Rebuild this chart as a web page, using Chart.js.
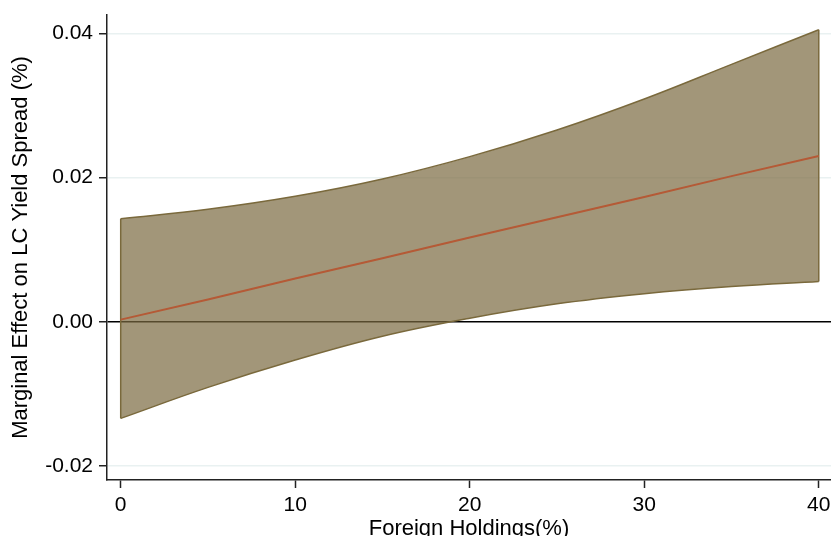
<!DOCTYPE html>
<html><head><meta charset="utf-8">
<script src="https://cdn.jsdelivr.net/npm/chart.js@4"></script>
<style>html,body{margin:0;padding:0;overflow:hidden;background:#fff}#wrap{width:831px;height:550px}</style>
</head><body><div id="wrap"><canvas id="c" width="831" height="550"></canvas></div>
<script>
const holdings = [0, 5, 10, 15, 20, 25, 30, 35, 40];
const marginalEffect = [0.0003, 0.0031, 0.0060, 0.0088, 0.0117, 0.0145, 0.0173, 0.0202, 0.0230];
const upperCI = [0.0143, 0.0156, 0.0174, 0.0198, 0.0229, 0.0266, 0.0309, 0.0357, 0.0405];
const lowerCI = [-0.0134, -0.0091, -0.0053, -0.0020, 0.0005, 0.0025, 0.0039, 0.0049, 0.0056];
const xTicks = [0, 10, 20, 30, 40];
const yTicks = [-0.02, 0.00, 0.02, 0.04];

const pts = (ys) => holdings.map((x, i) => ({x: x, y: ys[i]}));
const last = holdings.length - 1;
const bandEdge = '#7a693c';
const bandFill = 'rgba(122,105,64,0.7)';
const tickFont = {family: '"Liberation Sans", Arial, sans-serif', size: 21};
const titleFont = {family: '"Liberation Sans", Arial, sans-serif', size: 22};

new Chart(document.getElementById('c'), {
  type: 'line',
  data: {
    datasets: [
      {label: 'Marginal effect', data: pts(marginalEffect), borderColor: '#b55a36', borderWidth: 2, fill: false, order: 0, tension: 0},
      {label: 'Upper CI', data: pts(upperCI), borderColor: bandEdge, borderWidth: 1.5, backgroundColor: bandFill, fill: '+1', order: 3, tension: 0.4},
      {label: 'Lower CI', data: pts(lowerCI), borderColor: bandEdge, borderWidth: 1.5, fill: false, order: 2, tension: 0.4},
      {label: 'edgeL', data: [{x: holdings[0], y: lowerCI[0]}, {x: holdings[0], y: upperCI[0]}], borderColor: bandEdge, borderWidth: 1.5, fill: false, order: 1},
      {label: 'edgeR', data: [{x: holdings[last], y: lowerCI[last]}, {x: holdings[last], y: upperCI[last]}], borderColor: bandEdge, borderWidth: 1.5, fill: false, order: 1}
    ]
  },
  options: {
    responsive: false, animation: false, devicePixelRatio: 1,
    layout: {padding: {top: 15, right: 0, left: 0, bottom: 0}},
    plugins: {legend: {display: false}, tooltip: {enabled: false}},
    elements: {point: {radius: 0, hoverRadius: 0}},
    scales: {
      x: {
        type: 'linear', min: -0.785, max: 40.7,
        afterBuildTicks: (s) => { s.ticks = xTicks.map(v => ({value: v})); },
        afterFit: (s) => { s.height = 70; s.paddingLeft = 0; s.paddingRight = 0; },
        grid: {drawOnChartArea: false, tickLength: 8, tickColor: '#222', tickWidth: 1.5},
        border: {color: '#222', width: 1.5},
        ticks: {color: '#000', font: tickFont, padding: 5, maxRotation: 0, autoSkip: false, callback: (v) => String(v)},
        title: {display: true, text: 'Foreign Holdings(%)', color: '#000', font: titleFont, padding: {top: 0, bottom: 8}}
      },
      y: {
        type: 'linear', min: -0.02194, max: 0.04254,
        afterBuildTicks: (s) => { s.ticks = yTicks.map(v => ({value: v})); },
        afterFit: (s) => { s.width = 107; s.paddingTop = 0; s.paddingBottom = 0; },
        grid: {
          color: (c) => (c.tick && Math.abs(c.tick.value) < 1e-9) ? '#000' : '#e9f1f1',
          lineWidth: 1.5, tickLength: 8, tickColor: '#222', tickWidth: 1.5
        },
        border: {color: '#222', width: 1.5},
        ticks: {color: '#000', font: tickFont, padding: 6, autoSkip: false, callback: (v) => Number(v).toFixed(2)},
        title: {display: true, text: 'Marginal Effect on LC Yield Spread (%)', color: '#000', font: titleFont, padding: {top: 7.5, bottom: 0}}
      }
    }
  }
});
</script>
</body></html>
